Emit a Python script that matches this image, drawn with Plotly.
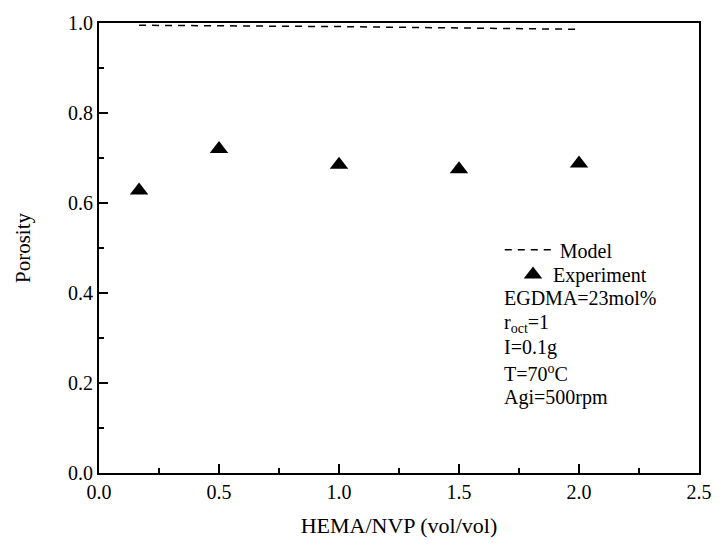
import plotly.graph_objects as go

# Porosity vs. HEMA/NVP ratio
ratio_model = [0.167, 0.5, 1.0, 1.5, 2.0]
porosity_model = [0.995, 0.994, 0.992, 0.989, 0.986]

ratio_exp = [0.167, 0.5, 1.0, 1.5, 2.0]
porosity_exp = [0.628, 0.72, 0.685, 0.675, 0.688]

conditions = ["EGDMA=23mol%", "r<sub>oct</sub>=1", "I=0.1g", "T=70<sup>o</sup>C", "Agi=500rpm"]

FONT = "Liberation Serif, Times New Roman, serif"

fig = go.Figure()
fig.add_trace(go.Scatter(
    x=ratio_model, y=porosity_model, mode="lines", name="Model",
    line=dict(color="black", width=1.5, dash="7px,6px"),
    legend="legend",
))
fig.add_trace(go.Scatter(
    x=ratio_exp, y=porosity_exp, mode="markers", name="Experiment",
    marker=dict(symbol="triangle-up", size=16, color="black"),
    legend="legend2",
))

# Experimental conditions listed under the legend
row_y = [0.388, 0.333, 0.278, 0.223, 0.168]
for txt, yy in zip(conditions, row_y):
    fig.add_annotation(
        x=0.672, y=yy, xref="paper", yref="paper", text=txt,
        showarrow=False, xanchor="left", yanchor="middle",
        font=dict(family=FONT, size=20, color="black"),
    )

axis_common = dict(
    showgrid=False, zeroline=False, showline=True, linecolor="black",
    linewidth=2, mirror=True, ticks="inside", ticklen=9, tickwidth=1.5,
    tickcolor="black", tickfont=dict(family=FONT, size=20, color="black"),
)

fig.update_xaxes(
    range=[0, 2.5], dtick=0.5, tickformat=".1f",
    minor=dict(ticks="inside", ticklen=5, tickwidth=1.5, tickcolor="black", dtick=0.25),
    title=dict(text="HEMA/NVP (vol/vol)", font=dict(family=FONT, size=22, color="black"), standoff=16),
    **axis_common,
)
fig.update_yaxes(
    range=[0, 1.0], dtick=0.2, tickformat=".1f",
    minor=dict(ticks="inside", ticklen=5, tickwidth=1.5, tickcolor="black", dtick=0.1),
    title=dict(text="Porosity", font=dict(family=FONT, size=21, color="black"), standoff=32),
    **axis_common,
)

legend_common = dict(
    xanchor="left", yanchor="middle",
    bgcolor="rgba(0,0,0,0)", borderwidth=0,
    font=dict(family=FONT, size=20, color="black"),
)

fig.update_layout(
    width=724, height=548,
    margin=dict(l=99, r=13, t=17, b=75),
    paper_bgcolor="white", plot_bgcolor="white",
    font=dict(family=FONT, size=20, color="black"),
    showlegend=True,
    legend=dict(x=0.668, y=0.496, itemwidth=50, **legend_common),
    legend2=dict(x=0.690, y=0.441, itemwidth=30, **legend_common),
)

fig.write_html("out.html")
